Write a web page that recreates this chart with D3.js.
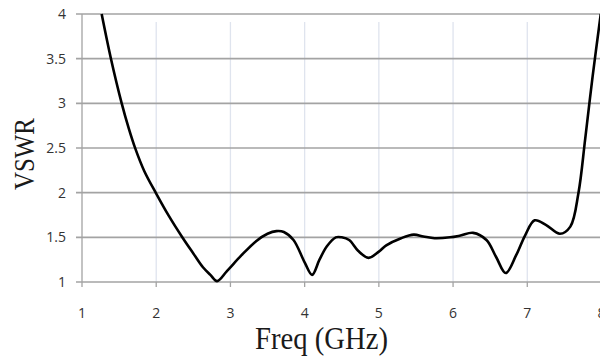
<!DOCTYPE html>
<html><head><meta charset="utf-8">
<script src="https://cdn.jsdelivr.net/npm/d3@7"></script>
<style>body{margin:0;background:#fff}svg{display:block}</style>
</head><body>
<script>
const freq = [1.265,1.39,1.535,1.63,1.72,1.84,2.0,2.17,2.36,2.5,2.63,2.73,2.82,2.95,3.15,3.35,3.5,3.62,3.72,3.85,4.0,4.1,4.2,4.3,4.42,4.5,4.6,4.72,4.86,5.0,5.1,5.3,5.47,5.6,5.75,5.96,6.1,6.27,6.45,6.58,6.71,6.85,6.97,7.1,7.25,7.44,7.58,7.69,7.78,7.88,7.99];
const vswr = [4.0,3.5,3.0,2.72,2.49,2.24,1.99,1.74,1.49,1.32,1.165,1.08,1.01,1.12,1.3,1.46,1.54,1.57,1.56,1.47,1.22,1.08,1.25,1.40,1.50,1.50,1.47,1.35,1.27,1.34,1.41,1.49,1.53,1.51,1.49,1.50,1.52,1.55,1.47,1.28,1.10,1.30,1.52,1.69,1.64,1.54,1.62,2.0,2.6,3.3,4.0];
const xTicks = [1,2,3,4,5,6,7,8];
const yTicks = [1,1.5,2,2.5,3,3.5,4];
const xTitle = "Freq (GHz)";
const yTitle = "VSWR";

const W = 600, H = 357;
const svg = d3.select("body").append("svg").attr("width", W).attr("height", H);
const x = d3.scaleLinear().domain([1, 8]).range([82, 601.5]);
const y = d3.scaleLinear().domain([1, 4]).range([282, 14]);

// vertical light gridlines
svg.append("g").selectAll("line").data(xTicks.slice(1)).join("line")
  .attr("x1", d => x(d)).attr("x2", d => x(d))
  .attr("y1", 22).attr("y2", y(1))
  .attr("stroke", "#dfe4ee").attr("stroke-width", 1.3);

// horizontal gridlines (extend left as ticks)
svg.append("g").selectAll("line").data(yTicks).join("line")
  .attr("x1", 76).attr("x2", W)
  .attr("y1", d => y(d)).attr("y2", d => y(d))
  .attr("stroke", "#a3a3a3").attr("stroke-width", 1.6);

// y axis line
svg.append("line").attr("x1", 82).attr("x2", 82).attr("y1", y(4)).attr("y2", y(1))
  .attr("stroke", "#a3a3a3").attr("stroke-width", 1.3);

// x tick marks
svg.append("g").selectAll("line").data(xTicks).join("line")
  .attr("x1", d => x(d)).attr("x2", d => x(d))
  .attr("y1", y(1)).attr("y2", y(1) + 5)
  .attr("stroke", "#a3a3a3").attr("stroke-width", 1.3);

// tick labels
svg.append("g").selectAll("text").data(yTicks).join("text")
  .attr("x", 66).attr("y", d => y(d)).attr("dy", "0.35em")
  .attr("text-anchor", "end")
  .attr("font-family", "Open Sans, sans-serif").attr("font-size", 14)
  .attr("fill", "#333").text(d => d);
svg.append("g").selectAll("text").data(xTicks).join("text")
  .attr("x", d => x(d)).attr("y", 313).attr("dy", "0.35em")
  .attr("text-anchor", "middle")
  .attr("font-family", "Open Sans, sans-serif").attr("font-size", 14)
  .attr("fill", "#333").text(d => d);

// curve
const pts = freq.map((f, i) => [f, vswr[i]]);
svg.append("path").datum(pts)
  .attr("fill", "none").attr("stroke", "#000").attr("stroke-width", 2.6)
  .attr("stroke-linejoin", "round")
  .attr("d", d3.line().x(d => x(d[0])).y(d => y(d[1])).curve(d3.curveCatmullRom.alpha(0.5)));

// titles
svg.append("text").attr("x", 321.5).attr("y", 349)
  .attr("text-anchor", "middle")
  .attr("font-family", "Liberation Serif, Times New Roman, serif").attr("font-size", 31)
  .attr("textLength", 133).attr("lengthAdjust", "spacingAndGlyphs")
  .attr("fill", "#1a1a1a").text(xTitle);
svg.append("text").attr("transform", "translate(34,154) rotate(-90)")
  .attr("text-anchor", "middle")
  .attr("font-family", "Liberation Serif, Times New Roman, serif").attr("font-size", 29)
  .attr("textLength", 72).attr("lengthAdjust", "spacingAndGlyphs")
  .attr("fill", "#1a1a1a").text(yTitle);
</script>
</body></html>
